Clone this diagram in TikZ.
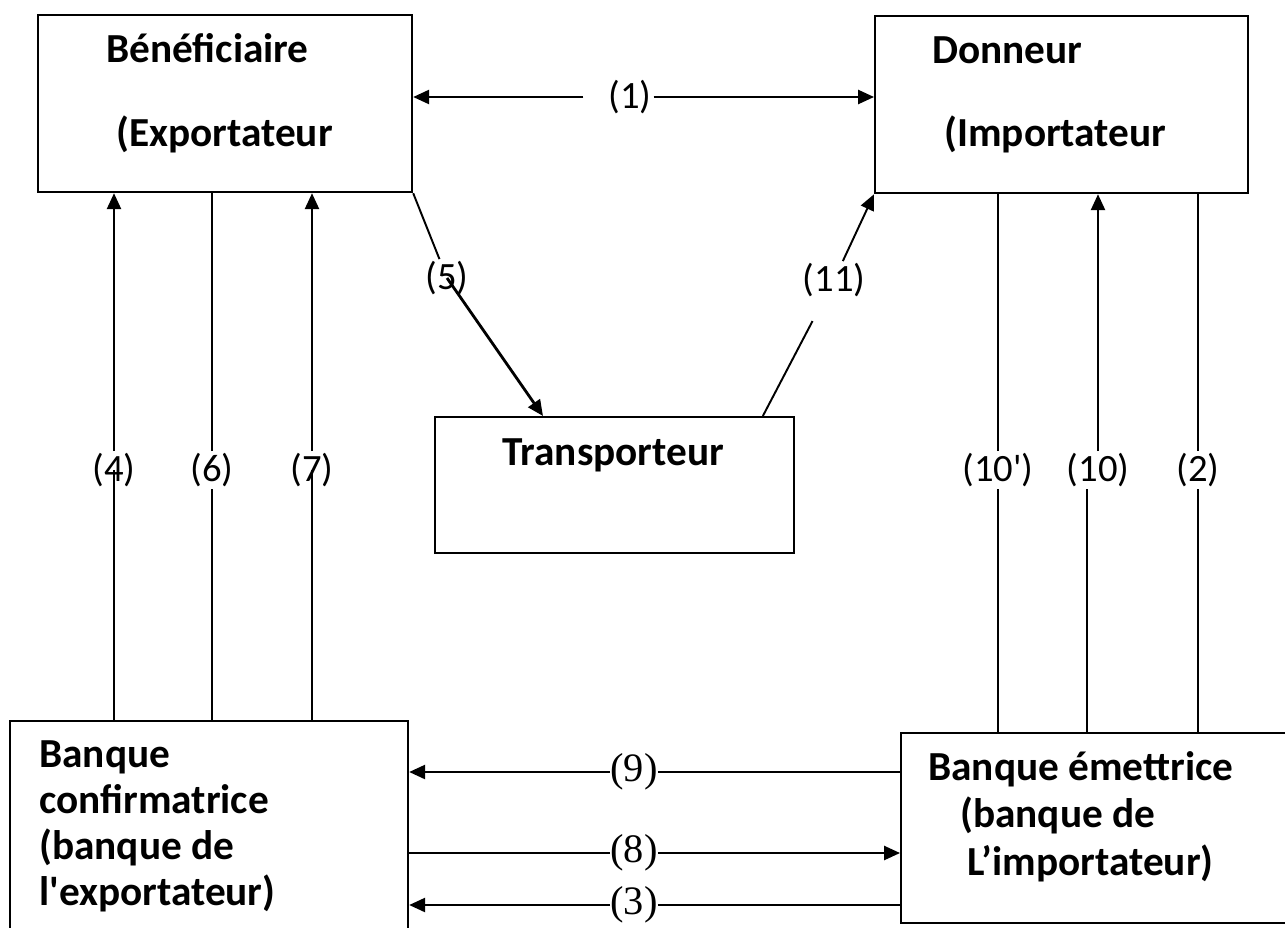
\documentclass[tikz,border=0pt]{standalone}
\usepackage{fontspec}
\setmainfont{Carlito}
\newfontfamily\timesfont{Liberation Serif}
\usetikzlibrary{arrows.meta,positioning}

\begin{document}
\begin{tikzpicture}[
    x=0.02cm,y=-0.02cm,
    >={Triangle[length=9pt,width=8pt]},
    party/.style={draw,line width=1.3pt,inner sep=0pt,anchor=north west},
    partytext/.style={anchor=base west,inner sep=0pt,
                      font=\fontsize{23.5}{26}\selectfont\bfseries},
    num/.style={inner sep=1pt,font=\fontsize{22}{26}\selectfont},
    serifnum/.style={inner sep=0pt,font=\fontsize{23}{26}\selectfont\timesfont},
    link/.style={line width=1.1pt},
    arrow/.style={->,line width=1.1pt}
  ]
  \useasboundingbox (0,0) rectangle (1285,927);
  \node[party,minimum width=7.48cm,minimum height=3.54cm] (benef) at (37,14) {};
  \node[party,minimum width=7.46cm,minimum height=3.54cm] (donneur) at (874,15) {};
  \node[party,minimum width=7.18cm,minimum height=2.72cm] (transp) at (434,416) {};
  \node[party,minimum width=7.96cm,minimum height=6cm] (bconf) at (9,720) {};
  \node[party,minimum width=8cm,minimum height=3.8cm] (bemet) at (900,732) {};
  \node[partytext] (benef1) at (106,62) {Bénéficiaire};
  \node[partytext] (benef2) at (116,146) {(Exportateur};
  \node[partytext] (donneur1) at (932,63) {Donneur};
  \node[partytext] (donneur2) at (944,146) {(Importateur};
  \node[partytext] (transp1) at (502,465) {Transporteur};
  \node[partytext,align=left] (bconf1) at (39,905)
    {Banque\\confirmatrice\\(banque de\\l\textquotesingle exportateur)};
  \node[partytext] (bemet1) at (928,780) {Banque émettrice};
  \node[partytext] (bemet2) at (960,827) {(banque de};
  \node[partytext] (bemet3) at (967,875) {L’importateur)};
  \node[num] (l1) at (630,97) {(1)};
  \node[num] (l5) at (447,278) {(5)};
  \node[num] (l11) at (834,280) {(11)};
  \node[num] (l4) at (114,470) {(4)};
  \node[num] (l6) at (212,470) {(6)};
  \node[num] (l7) at (312,470) {(7)};
  \node[num] (l10p) at (998,470) {(10\textquotesingle)};
  \node[num] (l10) at (1098,470) {(10)};
  \node[num] (l2) at (1198,470) {(2)};
  \node[serifnum] (l9) at (634,772) {(9)};
  \node[serifnum] (l8) at (634,853) {(8)};
  \node[serifnum] (l3) at (634,905) {(3)};
  \coordinate (l10low) at ([xshift=-0.22cm]l10.south);
  \draw[arrow,shorten <=0.46cm] (l1) -- (l1 -| benef.east);
  \draw[arrow] (l1) -- (l1 -| donneur.west);
  \draw[link] (benef.south east) -- (l5);
  \draw[arrow,line width=1.6pt] (l5.center) -- (transp.136);
  \draw[link,shorten >=0.5cm] (transp.25) -- (l11);
  \draw[arrow] (l11) -- (donneur.south west);
  \draw[link] (bconf.north -| l4) -- (l4.center);
  \draw[arrow] (l4) -- (l4 |- benef.south);
  \draw[link] (bconf.north -| l6) -- (l6);
  \draw[link] (l6) -- (l6 |- benef.south);
  \draw[link] (bconf.north -| l7) -- (l7.center);
  \draw[arrow] (l7) -- (l7 |- benef.south);
  \draw[link] (bemet.north -| l10p) -- (l10p);
  \draw[link] (l10p) -- (l10p |- donneur.south);
  \draw[link] (bemet.north -| l10low) -- (l10low);
  \draw[arrow] (l10) -- (l10 |- donneur.south);
  \draw[link] (bemet.north -| l2) -- (l2);
  \draw[link] (l2) -- (l2 |- donneur.south);
  \draw[arrow] (l9) -- (l9 -| bconf.east);
  \draw[link] (l9) -- (l9 -| bemet.west);
  \draw[link] (l8) -- (l8 -| bconf.east);
  \draw[arrow] (l8) -- (l8 -| bemet.west);
  \draw[arrow] (l3) -- (l3 -| bconf.east);
  \draw[link] (l3) -- (l3 -| bemet.west);
\end{tikzpicture}
\end{document}
